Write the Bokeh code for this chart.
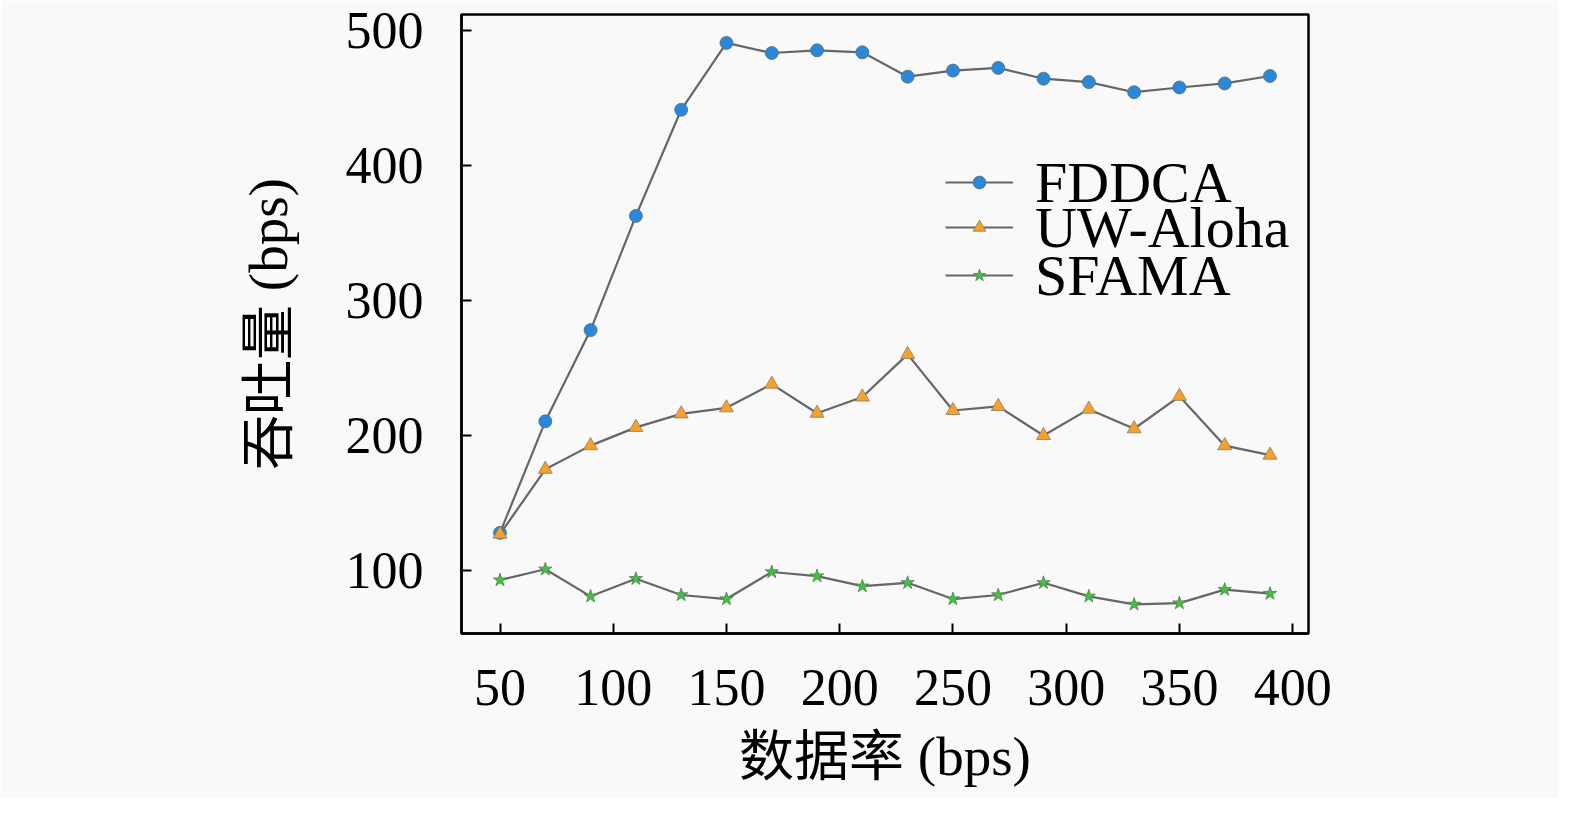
from bokeh.plotting import figure
from bokeh.models import Range1d, FixedTicker, Legend, LegendItem
from bokeh.embed import file_html
from bokeh.resources import INLINE

rates = [50, 70, 90, 110, 130, 150, 170, 190, 210, 230, 250, 270, 290, 310, 330, 350, 370, 390]
fddca = [128, 210.5, 278, 362.5, 441, 490.5, 483, 485, 483.5, 465.5, 470, 472, 464, 461.5, 454, 457.5, 460.5, 466]
uwaloha = [127, 175, 192.5, 206, 216, 220.5, 238, 216.5, 228.5, 260, 218.5, 221.5, 200, 219.5, 205, 229, 192.5, 185.5]
sfama = [93, 101, 81, 94, 82, 79, 99, 96, 88.5, 91, 79, 82, 91, 81, 75, 76, 86, 83]

x_ticks = [50, 100, 150, 200, 250, 300, 350, 400]
y_ticks = [100, 200, 300, 400, 500]
x_label = "数据率 (bps)"
y_label = "吞吐量 (bps)"
names = ["FDDCA", "UW-Aloha", "SFAMA"]

FONT = "Liberation Serif, Noto Sans CJK SC"
BG = "#f9f9f9"
LINE = "#666666"

p = figure(width=1559, height=798, output_backend="svg", toolbar_location=None,
           x_range=Range1d(33, 407), y_range=Range1d(53.5, 511.5),
           min_border_left=461, min_border_right=251, min_border_top=14, min_border_bottom=165,
           background_fill_color=BG, border_fill_color=BG)
p.grid.visible = False
p.outline_line_color = "black"
p.outline_line_width = 2.5

for ax in (p.xaxis[0], p.yaxis[0]):
    ax.axis_line_width = 2.5
    ax.axis_line_color = "black"
    ax.major_tick_in = 10
    ax.major_tick_out = 0
    ax.major_tick_line_width = 2
    ax.minor_tick_line_color = None
    ax.major_label_text_font = FONT
    ax.major_label_text_font_size = "52px"
    ax.major_label_text_color = "black"
    ax.axis_label_text_font = FONT
    ax.axis_label_text_font_size = "55px"
    ax.axis_label_text_font_style = "normal"
    ax.axis_label_text_color = "black"

p.xaxis.ticker = FixedTicker(ticks=x_ticks)
p.yaxis.ticker = FixedTicker(ticks=y_ticks)
p.xaxis.axis_label = x_label
p.yaxis.axis_label = y_label
p.xaxis.major_label_standoff = 36
p.yaxis.major_label_standoff = 38
p.xaxis.axis_label_standoff = 18
p.yaxis.axis_label_standoff = 44

l1 = p.line(rates, fddca, line_color=LINE, line_width=2.2)
m1 = p.scatter(rates, fddca, marker="circle", size=13, fill_color="#2a88d8", line_color="#5a6a7a", line_width=0.8)
l2 = p.line(rates, uwaloha, line_color=LINE, line_width=2.2)
m2 = p.scatter(rates, uwaloha, marker="triangle", size=14, fill_color="#f7a128", line_color="#8a7a6a", line_width=0.8)
l3 = p.line(rates, sfama, line_color=LINE, line_width=2.2)
m3 = p.scatter(rates, sfama, marker="star", size=14, fill_color="#3cc43c", line_color="#5a7a5a", line_width=0.8)

# one legend box per entry so that the tight row spacing of the reference can be matched
for name, rends, loc_y in zip(names, [[l1, m1], [l2, m2], [l3, m3]], [416, 371, 323]):
    lg = Legend(items=[LegendItem(label=name, renderers=rends)],
                location=(484, loc_y), orientation="vertical",
                glyph_width=68, glyph_height=32, label_height=70, spacing=0,
                label_standoff=22, padding=0, margin=0,
                border_line_color=None, background_fill_alpha=0,
                label_text_font=FONT, label_text_font_size="58px", label_text_color="black")
    p.add_layout(lg, "center")

open("out.html", "w").write(file_html(p, INLINE))
